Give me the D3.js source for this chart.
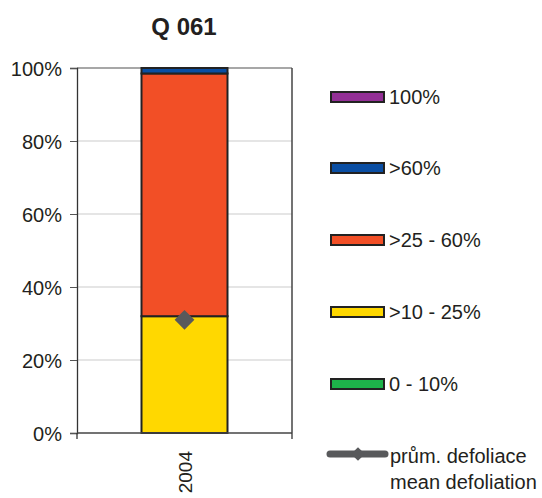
<!DOCTYPE html>
<html>
<head>
<meta charset="utf-8">
<script src="https://cdn.jsdelivr.net/npm/d3@7/dist/d3.min.js"></script>
<style>
  html, body { margin: 0; padding: 0; background: #fff; }
  svg { display: block; font-family: "Liberation Sans", Arial, sans-serif; }
</style>
</head>
<body>
<svg id="chart" width="542" height="498"></svg>
<script>
// Defoliation classes, bottom to top of the stack
const classes = ["0 - 10%", ">10 - 25%", ">25 - 60%", ">60%", "100%"];
const classColors = ["#1db34a", "#ffd800", "#f24f26", "#0a4ea3", "#932f96"];
const years = ["2004"];
// Share of trees in each class (%) per year
const share0to10 = [0];
const share10to25 = [32];
const share25to60 = [66.5];
const share60 = [1.5];
const share100 = [0];
// Mean defoliation (%)
const meanDefoliation = [31];
const yTicks = [0, 20, 40, 60, 80, 100];

const seriesValues = [share0to10, share10to25, share25to60, share60, share100];
const rows = years.map((y, i) => {
  const r = { year: y };
  classes.forEach((c, k) => r[c] = seriesValues[k][i]);
  return r;
});

const svg = d3.select("#chart");
const plot = { left: 77, right: 292, top: 68, bottom: 433 };
const fontSize = 20;
const textColor = "#231f20";

const x = d3.scaleBand().domain(years).range([plot.left, plot.right]).paddingInner(0.6).paddingOuter(0.3);
const xCat = d3.scaleBand().domain(years).range([plot.left, plot.right]);
const y = d3.scaleLinear().domain([0, 100]).range([plot.bottom, plot.top]);

// Title
svg.append("text").attr("x", 184).attr("y", 35).attr("text-anchor", "middle")
  .attr("font-size", 24).attr("font-weight", "bold").attr("fill", textColor).text("Q 061");

// Gridlines
svg.append("g").selectAll("line").data(yTicks.filter(t => t > 0)).join("line")
  .attr("x1", plot.left).attr("x2", plot.right)
  .attr("y1", d => y(d)).attr("y2", d => y(d))
  .attr("stroke", d => d === 100 ? "#8a8a8a" : "#dcdcdc").attr("stroke-width", d => d === 100 ? 1.5 : 1.3);

// Right border of the plot area
svg.append("line").attr("x1", plot.right).attr("x2", plot.right)
  .attr("y1", plot.top).attr("y2", plot.bottom).attr("stroke", "#444").attr("stroke-width", 1.5);

// Stacked bars
const stack = d3.stack().keys(classes)(rows);
svg.append("g").selectAll("g").data(stack).join("g")
  .attr("fill", (d, i) => classColors[i])
  .selectAll("rect").data(d => d.filter(p => p[1] - p[0] > 0)).join("rect")
  .attr("x", d => x(d.data.year)).attr("width", x.bandwidth())
  .attr("y", d => y(d[1])).attr("height", d => y(d[0]) - y(d[1]))
  .attr("stroke", "#222").attr("stroke-width", 2);

// Y axis
const yAxis = d3.axisLeft(y).tickValues(yTicks).tickFormat(d => d + "%").tickSize(7).tickPadding(8);
const gy = svg.append("g").attr("transform", `translate(${plot.left},0)`).call(yAxis);
gy.select(".domain").attr("stroke", "#333").attr("stroke-width", 1.3);
gy.selectAll(".tick line").attr("stroke", "#555");
gy.selectAll("text").attr("font-size", fontSize).attr("fill", textColor)
  .attr("font-family", "Liberation Sans, Arial, sans-serif").attr("dy", "0.36em");

// X axis with category boundary ticks
svg.append("line").attr("x1", plot.left).attr("x2", plot.right)
  .attr("y1", plot.bottom).attr("y2", plot.bottom).attr("stroke", "#444").attr("stroke-width", 1.5);
const bounds = [plot.left, ...years.map(yr => xCat(yr) + xCat.bandwidth())];
svg.append("g").selectAll("line").data(bounds).join("line")
  .attr("x1", d => d).attr("x2", d => d).attr("y1", plot.bottom).attr("y2", plot.bottom + 6)
  .attr("stroke", "#333").attr("stroke-width", 1.3);
svg.append("g").selectAll("text").data(years).join("text")
  .attr("transform", d => `translate(${xCat(d) + xCat.bandwidth() / 2 + 7},${plot.bottom + 18}) rotate(-90)`)
  .attr("text-anchor", "end").attr("font-size", 19).attr("fill", textColor).text(d => d);

// Mean defoliation marker
svg.append("g").selectAll("path").data(years).join("path")
  .attr("d", d3.symbol(d3.symbolDiamond2, 250))
  .attr("transform", (d, i) => `translate(${xCat(d) + xCat.bandwidth() / 2},${y(meanDefoliation[i])})`)
  .attr("fill", "#58595b");

// Legend
const legendY = [384, 312, 240, 168, 97];
const lg = svg.append("g");
classes.forEach((c, i) => {
  lg.append("rect").attr("x", 331).attr("y", legendY[i] - 5).attr("width", 53).attr("height", 10)
    .attr("fill", classColors[i]).attr("stroke", "#222").attr("stroke-width", 2);
  lg.append("text").attr("x", 389).attr("y", legendY[i] + 7).attr("font-size", fontSize).attr("fill", textColor).text(c);
});
lg.append("line").attr("x1", 330).attr("x2", 385).attr("y1", 454).attr("y2", 454)
  .attr("stroke", "#58595b").attr("stroke-width", 7).attr("stroke-linecap", "round");
lg.append("path").attr("d", d3.symbol(d3.symbolDiamond2, 120))
  .attr("transform", "translate(358,454)").attr("fill", "#58595b");
lg.append("text").attr("x", 390).attr("y", 463).attr("font-size", fontSize).attr("fill", textColor).text("prům. defoliace");
lg.append("text").attr("x", 390).attr("y", 489).attr("font-size", fontSize).attr("fill", textColor).text("mean defoliation");
</script>
</body>
</html>
